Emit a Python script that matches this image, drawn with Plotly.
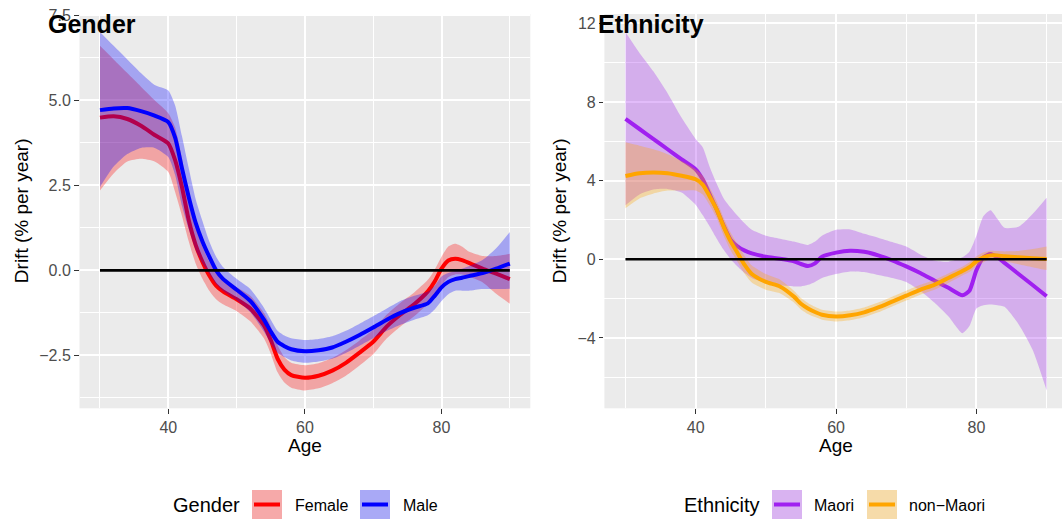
import plotly.graph_objects as go

# ---------------------------------------------------------------------------
# Smoothed drift estimates (% per year) by age, with confidence bands
# ---------------------------------------------------------------------------
AGES = [30, 32, 34, 36, 38, 40, 41, 42, 43, 44, 45, 46, 47, 48, 50, 52, 54, 55,
        56, 57, 58, 60, 62, 64, 66, 68, 70, 72, 74, 76, 78, 79, 80, 81, 82, 83,
        84, 86, 88, 90]

FEMALE_DRIFT = [4.49, 4.53, 4.45, 4.25, 3.98, 3.73, 3.24, 2.45, 1.47, 0.75, 0.25,
                -0.15, -0.45, -0.62, -0.85, -1.12, -1.62, -2.05, -2.6, -2.92,
                -3.08, -3.16, -3.1, -2.95, -2.72, -2.42, -2.1, -1.65, -1.3, -1.0,
                -0.62, -0.33, 0.05, 0.29, 0.34, 0.3, 0.22, 0.05, -0.1, -0.26]
FEMALE_UPPER = [6.6, 6.2, 5.8, 5.4, 5.0, 4.62, 4.2, 3.3, 2.1, 1.3, 0.7, 0.25,
                -0.05, -0.25, -0.5, -0.75, -1.25, -1.65, -2.2, -2.55, -2.72, -2.79,
                -2.73, -2.58, -2.35, -2.06, -1.75, -1.3, -0.95, -0.65, -0.28, 0.02,
                0.4, 0.7, 0.78, 0.7, 0.55, 0.42, 0.42, 0.49]
FEMALE_LOWER = [2.35, 2.85, 3.2, 3.28, 3.2, 2.89, 2.3, 1.6, 0.85, 0.2, -0.25,
                -0.6, -0.85, -1.0, -1.2, -1.5, -2.0, -2.45, -3.0, -3.3, -3.45,
                -3.53, -3.47, -3.32, -3.1, -2.8, -2.47, -2.0, -1.65, -1.35, -0.98,
                -0.7, -0.44, -0.2, -0.12, -0.12, -0.18, -0.35, -0.69, -0.98]

MALE_DRIFT = [4.71, 4.76, 4.77, 4.68, 4.55, 4.36, 3.9, 3.0, 2.15, 1.4, 0.85, 0.4,
              0.0, -0.25, -0.57, -0.9, -1.45, -1.8, -2.1, -2.23, -2.32, -2.38,
              -2.35, -2.27, -2.1, -1.9, -1.68, -1.45, -1.25, -1.1, -0.97, -0.75,
              -0.5, -0.34, -0.26, -0.22, -0.17, -0.08, 0.05, 0.2]
MALE_UPPER = [7.01, 6.6, 6.2, 5.8, 5.45, 5.29, 4.85, 3.95, 3.0, 2.1, 1.45, 0.85,
              0.4, 0.1, -0.25, -0.55, -1.1, -1.45, -1.78, -1.92, -2.0, -2.05,
              -2.02, -1.94, -1.78, -1.57, -1.35, -1.12, -0.9, -0.75, -0.62, -0.45,
              -0.18, -0.08, -0.02, 0.05, 0.12, 0.3, 0.65, 1.13]
MALE_LOWER = [2.45, 3.05, 3.42, 3.6, 3.6, 3.33, 2.8, 1.9, 1.2, 0.6, 0.2, -0.1,
              -0.4, -0.6, -0.88, -1.23, -1.8, -2.15, -2.42, -2.55, -2.65, -2.72,
              -2.68, -2.6, -2.43, -2.22, -2.0, -1.78, -1.6, -1.45, -1.32, -1.15,
              -0.9, -0.7, -0.6, -0.6, -0.6, -0.55, -0.55, -0.54]

MAORI_DRIFT = [7.14, 6.63, 6.12, 5.6, 5.09, 4.58, 4.07, 3.3, 2.53, 1.7, 0.99,
               0.65, 0.44, 0.3, 0.13, 0.03, -0.1, -0.24, -0.34, -0.21, 0.13, 0.34,
               0.44, 0.38, 0.2, -0.05, -0.36, -0.7, -1.08, -1.45, -1.83, -1.6,
               -0.55, 0.1, 0.27, 0.1, -0.18, -0.75, -1.31, -1.88]
MAORI_UPPER = [11.57, 10.5, 9.55, 8.45, 7.2, 6.12, 5.7, 4.7, 3.85, 3.1, 2.62,
               2.2, 1.82, 1.5, 1.2, 1.05, 0.9, 0.8, 0.73, 0.9, 1.2, 1.5, 1.52,
               1.3, 1.1, 0.88, 0.65, 0.25, -0.06, -0.12, 0.1, 0.39, 1.2, 2.2, 2.5,
               2.05, 1.6, 1.65, 2.3, 3.13]
MAORI_LOWER = [2.75, 3.3, 3.55, 3.58, 3.4, 2.78, 2.25, 1.67, 1.05, 0.48, 0.0,
               -0.38, -0.7, -0.95, -1.2, -1.32, -1.38, -1.38, -1.3, -1.15, -0.95,
               -0.75, -0.62, -0.65, -0.8, -0.95, -1.15, -1.6, -2.2, -2.9, -3.76,
               -3.4, -2.5, -2.34, -2.3, -2.34, -2.42, -3.3, -4.6, -6.67]

NON_MAORI_DRIFT = [4.24, 4.38, 4.42, 4.38, 4.25, 4.07, 3.8, 3.2, 2.53, 1.65, 0.9,
                   0.3, -0.3, -0.75, -1.15, -1.38, -1.9, -2.26, -2.5, -2.68, -2.82,
                   -2.91, -2.85, -2.7, -2.45, -2.15, -1.85, -1.55, -1.3, -0.95,
                   -0.6, -0.4, -0.1, 0.1, 0.2, 0.2, 0.15, 0.1, 0.05, 0.02]
NON_MAORI_UPPER = [5.95, 5.78, 5.6, 5.35, 5.0, 4.58, 4.25, 3.65, 2.95, 2.1, 1.35,
                   0.75, 0.15, -0.32, -0.75, -1.03, -1.6, -1.97, -2.22, -2.42,
                   -2.57, -2.66, -2.6, -2.45, -2.2, -1.9, -1.6, -1.3, -1.05, -0.72,
                   -0.38, -0.15, 0.15, 0.35, 0.44, 0.42, 0.4, 0.42, 0.52, 0.65]
NON_MAORI_LOWER = [2.6, 3.1, 3.35, 3.5, 3.5, 3.5, 3.3, 2.75, 2.1, 1.2, 0.45,
                   -0.15, -0.75, -1.18, -1.55, -1.73, -2.2, -2.55, -2.78, -2.94,
                   -3.07, -3.16, -3.1, -2.95, -2.7, -2.4, -2.1, -1.8, -1.55, -1.2,
                   -0.82, -0.65, -0.35, -0.15, 0.0, -0.02, -0.1, -0.25, -0.4, -0.55]

ZERO_DRIFT = 0.0

X_TICKS = [40, 60, 80]
X_MINOR = [30, 50, 70, 90]
GENDER_Y_TICKS = [-2.5, 0, 2.5, 5, 7.5]
GENDER_Y_LABELS = ["\u22122.5", "0.0", "2.5", "5.0", "7.5"]
GENDER_Y_MINOR = [-3.75, -1.25, 1.25, 3.75, 6.25]
ETH_Y_TICKS = [-4, 0, 4, 8, 12]
ETH_Y_LABELS = ["\u22124", "0", "4", "8", "12"]
ETH_Y_MINOR = [-6, -2, 2, 6, 10]

# ---------------------------------------------------------------------------
W, H = 1062, 521
FONT = "Liberation Sans"
PANEL_BG = "#EBEBEB"
FILL_ALPHA = 0.3

COLORS = {
    "Female": (255, 0, 0),
    "Male": (0, 0, 255),
    "Maori": (160, 32, 240),
    "non\u2212Maori": (255, 165, 0),
}


def rgb(c, a=None):
    if a is None:
        return "rgb(%d,%d,%d)" % c
    return "rgba(%d,%d,%d,%.2f)" % (c[0], c[1], c[2], a)


def px_x(x):
    return x / W


def px_y(y):
    return 1 - y / H


def add_smooth(fig, ages, drift, lower, upper, color, xa, ya):
    # confidence band: lower edge, then upper edge filled down to it
    fig.add_trace(go.Scatter(x=ages, y=lower, mode="lines", xaxis=xa, yaxis=ya,
                             line=dict(width=0, shape="spline", smoothing=0.6),
                             hoverinfo="skip", showlegend=False))
    fig.add_trace(go.Scatter(x=ages, y=upper, mode="lines", xaxis=xa, yaxis=ya,
                             fill="tonexty", fillcolor=rgb(color, FILL_ALPHA),
                             line=dict(width=0, shape="spline", smoothing=0.6),
                             hoverinfo="skip", showlegend=False))
    fig.add_trace(go.Scatter(x=ages, y=drift, mode="lines", xaxis=xa, yaxis=ya,
                             line=dict(color=rgb(color), width=4,
                                       shape="spline", smoothing=0.6),
                             showlegend=False))


def add_zero_line(fig, ages, xa, ya):
    fig.add_trace(go.Scatter(x=[min(ages), max(ages)], y=[ZERO_DRIFT, ZERO_DRIFT],
                             mode="lines", xaxis=xa, yaxis=ya,
                             line=dict(color="black", width=2.6),
                             hoverinfo="skip", showlegend=False))


def padded(values, frac=0.05):
    lo, hi = min(values), max(values)
    span = hi - lo
    return [lo - frac * span, hi + frac * span]


fig = go.Figure()

add_smooth(fig, AGES, FEMALE_DRIFT, FEMALE_LOWER, FEMALE_UPPER, COLORS["Female"], "x", "y")
add_smooth(fig, AGES, MALE_DRIFT, MALE_LOWER, MALE_UPPER, COLORS["Male"], "x", "y")
add_zero_line(fig, AGES, "x", "y")

add_smooth(fig, AGES, MAORI_DRIFT, MAORI_LOWER, MAORI_UPPER, COLORS["Maori"], "x2", "y2")
add_smooth(fig, AGES, NON_MAORI_DRIFT, NON_MAORI_LOWER, NON_MAORI_UPPER,
           COLORS["non\u2212Maori"], "x2", "y2")
add_zero_line(fig, AGES, "x2", "y2")

x_range = padded(AGES)
gender_y_range = padded(FEMALE_LOWER + FEMALE_UPPER + MALE_LOWER + MALE_UPPER)
eth_y_range = padded(MAORI_LOWER + MAORI_UPPER + NON_MAORI_LOWER + NON_MAORI_UPPER)

# right-hand panel runs off the page edge
LEFT_PANEL = (79.5, 530.3)
RIGHT_PANEL = (604.4, 1062.0)
RIGHT_FULL_END = 1067.7
RIGHT_PX_PER_YEAR = (RIGHT_FULL_END - RIGHT_PANEL[0]) / (x_range[1] - x_range[0])
right_x_range = [x_range[0], x_range[0] + (RIGHT_PANEL[1] - RIGHT_PANEL[0]) / RIGHT_PX_PER_YEAR]
PANEL_TOP, PANEL_BOTTOM = 14.0, 408.3

tick_font = dict(family=FONT, size=16, color="#4D4D4D")


def axis_common():
    return dict(ticks="outside", ticklen=4.5, tickwidth=1, tickcolor="#333333",
                tickfont=tick_font, showgrid=True, gridcolor="white", gridwidth=1.6,
                zeroline=False, showline=False, fixedrange=True, automargin=False)


def minor_grid(vals):
    return dict(tickvals=vals, showgrid=True, gridcolor="white", gridwidth=0.8, ticks="")


fig.update_layout(
    width=W, height=H,
    margin=dict(l=0, r=0, t=0, b=0, pad=0),
    paper_bgcolor="white",
    plot_bgcolor=PANEL_BG,
    showlegend=False,
    font=dict(family=FONT),
    xaxis=dict(domain=[px_x(LEFT_PANEL[0]), px_x(LEFT_PANEL[1])], range=x_range,
               tickvals=X_TICKS, anchor="y", minor=minor_grid(X_MINOR),
               **axis_common()),
    yaxis=dict(domain=[px_y(PANEL_BOTTOM), px_y(PANEL_TOP)], range=gender_y_range,
               tickvals=GENDER_Y_TICKS, ticktext=GENDER_Y_LABELS, anchor="x",
               minor=minor_grid(GENDER_Y_MINOR), **axis_common()),
    xaxis2=dict(domain=[px_x(RIGHT_PANEL[0]), px_x(RIGHT_PANEL[1])], range=right_x_range,
                tickvals=X_TICKS, anchor="y2", minor=minor_grid(X_MINOR),
                **axis_common()),
    yaxis2=dict(domain=[px_y(PANEL_BOTTOM), px_y(PANEL_TOP)], range=eth_y_range,
                tickvals=ETH_Y_TICKS, ticktext=ETH_Y_LABELS, anchor="x2",
                minor=minor_grid(ETH_Y_MINOR), **axis_common()),
)

annotations = []
shapes = []


def text(x, y, s, size, anchor="left", color="black", angle=0, bold=False):
    annotations.append(dict(
        x=px_x(x), y=px_y(y), xref="paper", yref="paper", showarrow=False,
        text="<b>%s</b>" % s if bold else s, textangle=angle,
        xanchor=anchor, yanchor="middle",
        font=dict(family=FONT, size=size, color=color)))


# panel titles
text(46, 23.5, "Gender", 25, bold=True)
text(595.5, 23.5, "Ethnicity", 25, bold=True)

# axis titles
text((LEFT_PANEL[0] + LEFT_PANEL[1]) / 2, 445, "Age", 19, anchor="center")
text((RIGHT_PANEL[0] + RIGHT_FULL_END) / 2, 445, "Age", 19, anchor="center")
text(21, (PANEL_TOP + PANEL_BOTTOM) / 2, "Drift (% per year)", 19, anchor="center", angle=-90)
text(559, (PANEL_TOP + PANEL_BOTTOM) / 2, "Drift (% per year)", 19, anchor="center", angle=-90)

# legends
LEGEND_Y = 504.5
KEY_H = 29


def legend(title, title_x, entries):
    text(title_x, LEGEND_Y + 0.5, title, 20)
    for name, key_x, label_x in entries:
        c = COLORS[name]
        y0, y1 = px_y(LEGEND_Y + KEY_H / 2), px_y(LEGEND_Y - KEY_H / 2)
        shapes.append(dict(type="rect", xref="paper", yref="paper",
                           x0=px_x(key_x), x1=px_x(key_x + 30), y0=y0, y1=y1,
                           fillcolor="#F2F2F2", line=dict(width=0)))
        shapes.append(dict(type="rect", xref="paper", yref="paper",
                           x0=px_x(key_x), x1=px_x(key_x + 30), y0=y0, y1=y1,
                           fillcolor=rgb(c, FILL_ALPHA), line=dict(width=0)))
        shapes.append(dict(type="line", xref="paper", yref="paper",
                           x0=px_x(key_x + 2), x1=px_x(key_x + 28),
                           y0=px_y(LEGEND_Y), y1=px_y(LEGEND_Y),
                           line=dict(color=rgb(c), width=4)))
        text(label_x, LEGEND_Y + 0.5, name, 16)


legend("Gender", 171, [("Female", 252, 293), ("Male", 360, 401)])
legend("Ethnicity", 682, [("Maori", 772, 812), ("non\u2212Maori", 867, 907)])

fig.update_layout(annotations=annotations, shapes=shapes)

fig.write_html("out.html")
